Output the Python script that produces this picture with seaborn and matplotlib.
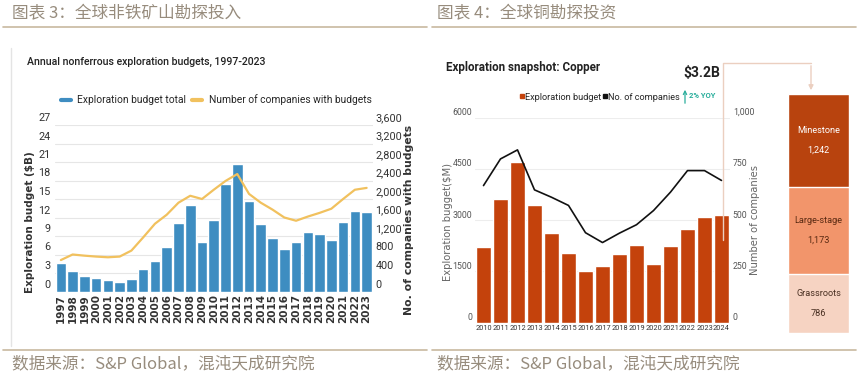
import numpy as np
import matplotlib
matplotlib.use("Agg")
import matplotlib.pyplot as plt
import matplotlib.transforms as mtransforms
from matplotlib.lines import Line2D
from matplotlib.ticker import FuncFormatter
import seaborn as sns

# ── data ─────────────────────────────────────
years_a = [str(y) for y in range(1997, 2024)]
budget_a = [4.55, 3.3, 2.5, 2.25, 1.9, 1.6, 2.1, 3.6, 4.9, 7.2, 11.1, 14.0, 8.0, 11.6,
            17.4, 20.7, 14.6, 10.9, 8.7, 6.9, 8.1, 9.6, 9.3, 8.4, 11.3, 13.1, 12.9]
companies_a = [680, 800, 775, 755, 740, 755, 885, 1170, 1465, 1660, 1920, 2070, 2000, 2200,
               2390, 2540, 2110, 1920, 1770, 1600, 1530, 1620, 1700, 1790, 2000, 2200, 2240]

years_b = [str(y) for y in range(2010, 2025)]
budget_b = [2200, 3620, 4690, 3425, 2625, 2030, 1520, 1640, 2010, 2275, 1700, 2225, 2740, 3100, 3160]
companies_b = [668, 798, 842, 647, 611, 571, 438, 390, 436, 477, 546, 636, 741, 741, 693]

stages = ["Minestone", "Large-stage", "Grassroots"]
stage_vals = [1242, 1173, 786]

BLUE = "#3E8DC1"
GOLD = "#F1C15E"
RUST = "#C4420C"
STAGE_COLORS = ["#B8430E", "#F2956B", "#F6D3C2"]
STAGE_TEXT = ["white", "#5A2A12", "#4A3022"]
HEAD = "#978C7D"
RULE = "#C8B9A0"
TEAL = "#2AAE9C"

W, H = 859, 376

sns.set_style("white")
plt.rcParams["font.family"] = ["DejaVu Sans"]
COND = ["Roboto"]
CJK = ["Noto Sans CJK SC", "DejaVu Sans"]

fig = plt.figure(figsize=(W / 100, H / 100), dpi=100)


def box(x0, y0, x1, y1):
    return [x0 / W, 1 - y1 / H, (x1 - x0) / W, (y1 - y0) / H]


def fx(x, y):
    return (x / W, 1 - y / H)


def hline(x0, x1, y, **kw):
    fig.add_artist(Line2D([x0 / W, x1 / W], [1 - y / H] * 2, **kw))


def lift(labels, px):
    # the source chart prints its y tick labels a few pixels above the gridlines
    off = mtransforms.ScaledTranslation(0, px / 100, fig.dpi_scale_trans)
    for t in labels:
        t.set_transform(t.get_transform() + off)


# ── header / footer ──────────────────────────
fig.text(*fx(12, 14), "图表 3：全球非铁矿山勘探投入", family=CJK, fontsize=12, color=HEAD, va="center")
fig.text(*fx(437, 14), "图表 4：全球铜勘探投资", family=CJK, fontsize=12, color=HEAD, va="center")
hline(3, 427, 27, color=RULE, lw=1.2)
hline(432, 856, 27, color=RULE, lw=1.2)
hline(3, 427, 350, color=RULE, lw=1.2)
hline(432, 856, 350, color=RULE, lw=1.2)
fig.text(*fx(12, 364), "数据来源：S&P Global，混沌天成研究院", family=CJK, fontsize=12, color=HEAD, va="center")
fig.text(*fx(437, 364), "数据来源：S&P Global，混沌天成研究院", family=CJK, fontsize=12, color=HEAD, va="center")
fig.add_artist(Line2D([11 / W] * 2, [1 - 48 / H, 1 - 346 / H], color="#E4E4E4", lw=1))

# ── left chart ───────────────────────────────
ax1 = fig.add_axes(box(55, 125, 372.5, 291.5))
sns.barplot(x=years_a, y=budget_a, color=BLUE, saturation=1, width=0.9, ax=ax1)
ax1b = ax1.twinx()
sns.lineplot(x=np.arange(len(years_a)), y=companies_a, color=GOLD, lw=1.6, ax=ax1b)
ax1.set_ylim(0, 27)
ax1.set_yticks(range(0, 28, 3))
ax1b.set_ylim(0, 3600)
ax1b.set_yticks(range(0, 3601, 400))
ax1b.yaxis.set_major_formatter(FuncFormatter(lambda v, p: f"{int(v):,}"))
ax1.set_xlim(-0.5, len(years_a) - 0.5)
ax1.yaxis.grid(True, color="#E6E6E6", lw=0.8)
ax1.set_axisbelow(True)
for a in (ax1, ax1b):
    a.set_xlabel("")
    a.set_ylabel("")
    for s in a.spines.values():
        s.set_visible(False)
    a.tick_params(length=0)
ax1.tick_params(axis="y", pad=3)
ax1b.tick_params(axis="y", pad=2)
ax1.tick_params(axis="x", pad=2)
for t in ax1.get_xticklabels():
    t.set_rotation(90)
    t.set_fontsize(7.5)
    t.set_fontweight("bold")
    t.set_color("#333333")
for t in ax1.get_yticklabels() + ax1b.get_yticklabels():
    t.set_family(COND)
    t.set_fontsize(7.8)
    t.set_color("#333333")
lift(ax1.get_yticklabels() + ax1b.get_yticklabels(), 8)

fig.text(*fx(27, 62), "Annual nonferrous exploration budgets, 1997-2023", family=COND,
         fontsize=7.6, fontweight="medium", color="#222222", va="center")
fig.text(*fx(30, 222), "Exploration budget ($B)", rotation=90, fontsize=7.5, fontweight="bold",
         color="#333333", ha="center", va="center")
fig.text(*fx(409, 220), "No. of companies with budgets", rotation=90, fontsize=7.8, fontweight="bold",
         color="#333333", ha="center", va="center")
h1 = [Line2D([], [], color=BLUE, lw=3), Line2D([], [], color=GOLD, lw=3)]
fig.legend(h1, ["Exploration budget total", "Number of companies with budgets"], loc="center",
           bbox_to_anchor=fx(216, 100), ncol=2, frameon=False, handlelength=1.0,
           handletextpad=0.6, columnspacing=0.6, prop={"family": COND, "size": 7.4})

# ── right chart ──────────────────────────────
ax2 = fig.add_axes(box(475, 117.5, 730, 322.5))
sns.barplot(x=years_b, y=budget_b, color=RUST, saturation=1, width=0.88, ax=ax2)
ax2b = ax2.twinx()
sns.lineplot(x=np.arange(len(years_b)), y=companies_b, color="#111111", lw=1.2, ax=ax2b)
ax2.set_ylim(0, 6000)
ax2.set_yticks(range(0, 6001, 1500))
ax2b.set_ylim(0, 1000)
ax2b.set_yticks(range(0, 1001, 250))
ax2b.yaxis.set_major_formatter(FuncFormatter(lambda v, p: f"{int(v):,}"))
ax2.set_xlim(-0.5, len(years_b) - 0.5)
ax2.yaxis.grid(True, color="#EDEDED", lw=0.8)
ax2.set_axisbelow(True)
for a in (ax2, ax2b):
    a.set_xlabel("")
    a.set_ylabel("")
    for s in a.spines.values():
        s.set_visible(False)
    a.tick_params(length=0, pad=2)
for t in ax2.get_xticklabels():
    t.set_family(COND)
    t.set_fontsize(5.3)
    t.set_color("#333333")
for t in ax2.get_yticklabels() + ax2b.get_yticklabels():
    t.set_family(COND)
    t.set_fontsize(6.3)
    t.set_color("#555555")
lift(ax2.get_yticklabels() + ax2b.get_yticklabels(), 6)

fig.text(*fx(446, 67), "Exploration snapshot: Copper", family=COND, fontsize=8.4, fontweight="bold",
         color="#222222", va="center")
fig.text(*fx(702, 73), "$3.2B", family=COND, fontsize=10, fontweight="bold",
         color="#222222", ha="center", va="center")
fig.text(*fx(689, 95), "2% YOY", family=COND, fontsize=5.5, fontweight="bold",
         color=TEAL, va="center")
ax2.annotate("", xy=fx(685, 87), xytext=fx(685, 106), xycoords="figure fraction",
             textcoords="figure fraction",
             arrowprops=dict(arrowstyle="->", color=TEAL, lw=0.9, mutation_scale=6))
fig.text(*fx(448, 222), "Exploration bugget($M)", rotation=90, fontsize=7.2,
         color="#666666", ha="center", va="center")
fig.text(*fx(755, 220), "Number of companies", rotation=90, fontsize=7.2,
         color="#666666", ha="center", va="center")
h2 = [Line2D([], [], color=RUST, marker="s", ls="", markersize=2.5),
      Line2D([], [], color="#111111", marker="s", ls="", markersize=2.5)]
fig.legend(h2, ["Exploration budget", "No. of companies"], loc="center",
           bbox_to_anchor=fx(600, 97), ncol=2, frameon=False, handlelength=0.3,
           handletextpad=0.2, columnspacing=0.2, prop={"family": COND, "size": 6.6})

# ── stage split bar ──────────────────────────
ax3 = fig.add_axes(box(788, 94, 849, 333))
tops = np.cumsum(stage_vals[::-1])[::-1]
for top, col in zip(tops, STAGE_COLORS):
    sns.barplot(x=["Copper"], y=[top], color=col, saturation=1, width=1.0, ax=ax3)
ax3.set_xlim(-0.5, 0.5)
ax3.set_ylim(0, tops[0])
ax3.axis("off")
for name, val, top, tc in zip(stages, stage_vals, tops, STAGE_TEXT):
    mid = top - val / 2
    ax3.annotate(name, (0, mid), xytext=(0, 7), textcoords="offset points", ha="center",
                 va="center", family=COND, fontsize=6.6, color=tc)
    ax3.annotate(f"{val:,}", (0, mid), xytext=(0, -7), textcoords="offset points", ha="center",
                 va="center", family=COND, fontsize=6.6, color=tc)

LINK = "#EBCFC0"
fig.add_artist(Line2D([723 / W, 723 / W, 811 / W], [1 - 240 / H, 1 - 63 / H, 1 - 63 / H],
                      color=LINK, lw=1, zorder=10))
ax3.annotate("", xy=fx(811, 93), xytext=fx(811, 63), xycoords="figure fraction",
             textcoords="figure fraction",
             arrowprops=dict(arrowstyle="-|>", color=LINK, lw=1, mutation_scale=7))

plt.savefig("out.png", dpi=100)
plt.close()
